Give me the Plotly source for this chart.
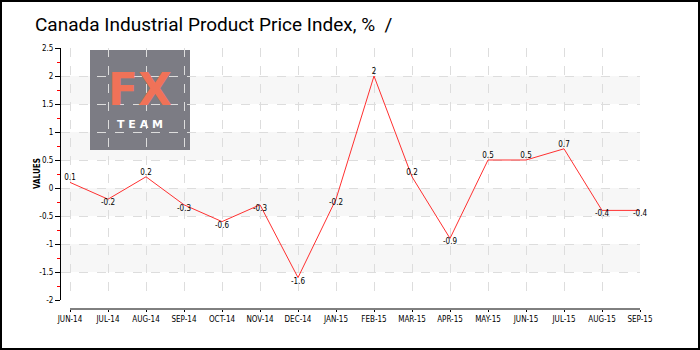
import plotly.graph_objects as go

months = ["JUN-14", "JUL-14", "AUG-14", "SEP-14", "OCT-14", "NOV-14", "DEC-14", "JAN-15",
          "FEB-15", "MAR-15", "APR-15", "MAY-15", "JUN-15", "JUL-15", "AUG-15", "SEP-15"]
values = [0.1, -0.2, 0.2, -0.3, -0.6, -0.3, -1.6, -0.2, 2, 0.2, -0.9, 0.5, 0.5, 0.7, -0.4, -0.4]
y_ticks = [-2, -1.5, -1, -0.5, 0, 0.5, 1, 1.5, 2, 2.5]
y_tick_text = ["-2", "-1.5", "-1", "-0.5", "0", "0.5", "1", "1.5", "2", "2.5"]
bands = [(1.5, 2), (0.5, 1), (-0.5, 0), (-1.5, -1)]

W, H = 700, 350
L, R, T, B = 61, 60, 48, 41
pw, ph = W - L - R, H - T - B

xs = list(range(len(months)))
text_pos = ["top center" if v > 0 else "bottom center" for v in values]
labels = [("%g" % v) for v in values]

fig = go.Figure()
fig.add_trace(go.Scatter(
    x=xs, y=values, mode="lines+text", text=labels, textposition=text_pos,
    textfont=dict(family="DejaVu Sans Condensed", size=8, color="#000"),
    line=dict(color="#ff3030", width=1), hoverinfo="skip", cliponaxis=False,
))

shapes = []
for y0, y1 in bands:
    shapes.append(dict(type="rect", xref="paper", yref="y", x0=0, x1=1, y0=y0, y1=y1,
                       fillcolor="#f7f7f7", line=dict(width=0), layer="below"))
# logo box
shapes.append(dict(type="rect", xref="x", yref="y",
                   x0=(90 - 70) / 38, x1=(190 - 70) / 38,
                   y0=2.5 - (150 - 48) / 56, y1=2.5 - (50 - 48) / 56,
                   fillcolor="rgba(120,120,128,0.97)", line=dict(width=0), layer="below"))
# x axis line (offset below plot)
shapes.append(dict(type="line", xref="x", yref="paper", x0=0, x1=15, y0=0, y1=0,
                   line=dict(color="#000", width=1)))
# outer border
shapes.append(dict(type="rect", xref="paper", yref="paper",
                   x0=(1 - L) / pw, x1=(699 - L) / pw,
                   y0=(H - B - 349) / ph, y1=(H - B - 1) / ph,
                   line=dict(color="#000", width=2)))

annotations = [
    dict(text="<b>FX</b>", xref="x", yref="y", x=(140 - 70) / 38, y=2.5 - (116 - 48) / 56,
         showarrow=False, font=dict(family="DejaVu Sans", size=44, color="#f07258"),
         xanchor="center", yanchor="bottom", borderpad=0),
    dict(text="<b>T E A M</b>", xref="x", yref="y", x=(140 - 70) / 38, y=2.5 - (116.5 - 48) / 56,
         showarrow=False, font=dict(family="DejaVu Sans", size=11, color="#ffffff"),
         xanchor="center", yanchor="top", borderpad=0),
    dict(text="<b>VALUES</b>", xref="paper", yref="paper", x=(37 - L) / pw,
         y=(H - B - 174) / ph, textangle=-90, showarrow=False,
         font=dict(family="DejaVu Sans Condensed", size=8, color="#000"),
         xanchor="center", yanchor="middle"),
]

fig.update_layout(
    width=W, height=H, margin=dict(l=L, r=R, t=T, b=B),
    paper_bgcolor="#ffffff", plot_bgcolor="#ffffff",
    showlegend=False,
    title=dict(text="Canada Industrial Product Price Index, %  /", x=35 / W, xanchor="left",
               y=1 - 24 / H, yanchor="middle",
               font=dict(family="Roboto", size=19, color="#000")),
    xaxis=dict(range=[-9 / 38, 15], tickmode="array", tickvals=xs, ticktext=months,
               showgrid=True, gridcolor="#dddddd", griddash="dash", gridwidth=1,
               zeroline=False, showline=False, anchor="free", position=0,
               ticks="outside", ticklen=2, tickcolor="#000",
               tickfont=dict(family="DejaVu Sans Condensed", size=8, color="#000")),
    yaxis=dict(range=[-2, 2.5], domain=[9 / ph, 1], tickmode="array", tickvals=y_ticks,
               ticktext=y_tick_text,
               showgrid=True, gridcolor="#dddddd", griddash="dash", gridwidth=1,
               zeroline=False, showline=True, linecolor="#000", linewidth=1,
               ticks="outside", ticklen=5, tickcolor="#000",
               minor=dict(tickvals=[v + 0.25 for v in y_ticks[:-1]], ticks="outside",
                          ticklen=3, tickcolor="#ff0000", showgrid=False),
               tickfont=dict(family="DejaVu Sans Condensed", size=8, color="#000")),
    shapes=shapes, annotations=annotations,
)

fig.write_html("out.html")
